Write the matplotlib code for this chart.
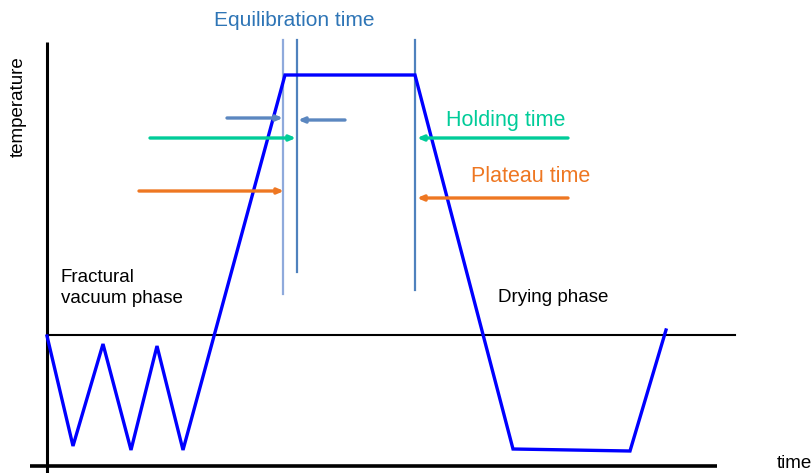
import matplotlib
matplotlib.use("Agg")
import matplotlib.pyplot as plt

plt.rcParams['font.family'] = ['Liberation Sans', 'DejaVu Sans']

# Temperature profile (diagram units: x to the right, y downward like the picture)
curve_x = [47, 73, 103, 131, 157, 183, 285, 415, 513, 630, 666]
curve_y = [336, 446, 344, 450, 346, 450, 75, 75, 449, 451, 330]

# Vertical marker lines: x, top, bottom, color
vlines_x = [283, 297, 415]
vlines_top = [40, 40, 40]
vlines_bottom = [294, 272, 290]
vlines_color = ['#8FAADC', '#4F81BD', '#4F81BD']

# Arrows: start x, end x, y, color
arrows_x0 = [227, 345, 150, 568, 139, 568]
arrows_x1 = [283, 298, 296, 417, 284, 417]
arrows_y = [118, 120, 138, 138, 191, 198]
arrows_c = ['#5B87C0', '#5B87C0', '#00CC99', '#00CC99', '#EE7722', '#EE7722']

fig = plt.figure(figsize=(8.12, 4.73), dpi=100)
ax = fig.add_axes([0, 0, 1, 1])
ax.set_xlim(0, 812)
ax.set_ylim(473, 0)
ax.axis('off')

# axes lines
ax.plot([47, 47], [42, 473], color='black', lw=2.2, solid_capstyle='butt')
ax.plot([30, 717], [466, 466], color='black', lw=2.6, solid_capstyle='butt')
ax.plot([47, 735], [335, 335], color='black', lw=1.5)

for x, t, b, c in zip(vlines_x, vlines_top, vlines_bottom, vlines_color):
    ax.plot([x, x], [t, b], color=c, lw=1.6)

ax.plot(curve_x, curve_y, color='#0000FF', lw=2.4, solid_joinstyle='miter')

for x0, x1, y, c in zip(arrows_x0, arrows_x1, arrows_y, arrows_c):
    ax.annotate('', xy=(x1, y), xytext=(x0, y),
                arrowprops=dict(arrowstyle='-|>,head_length=0.35,head_width=0.15',
                                color=c, lw=2.4, shrinkA=0, shrinkB=0))

ax.text(294, 20, 'Equilibration time', color='#2E75B6', fontsize=15,
        ha='center', va='center')
ax.text(446, 120, 'Holding time', color='#00CC99', fontsize=15.5,
        ha='left', va='center')
ax.text(471, 176, 'Plateau time', color='#EE7722', fontsize=15.5,
        ha='left', va='center')
ax.text(61, 288, 'Fractural\nvacuum phase', color='black', fontsize=13.5,
        ha='left', va='center', linespacing=1.33)
ax.text(498, 297, 'Drying phase', color='black', fontsize=13.5,
        ha='left', va='center')
ax.text(18, 107, 'temperature', color='black', fontsize=13.5, rotation=90,
        ha='center', va='center')
ax.text(777, 463, 'time', color='black', fontsize=13.5, ha='left', va='center')

fig.savefig('out.png', dpi=100)
